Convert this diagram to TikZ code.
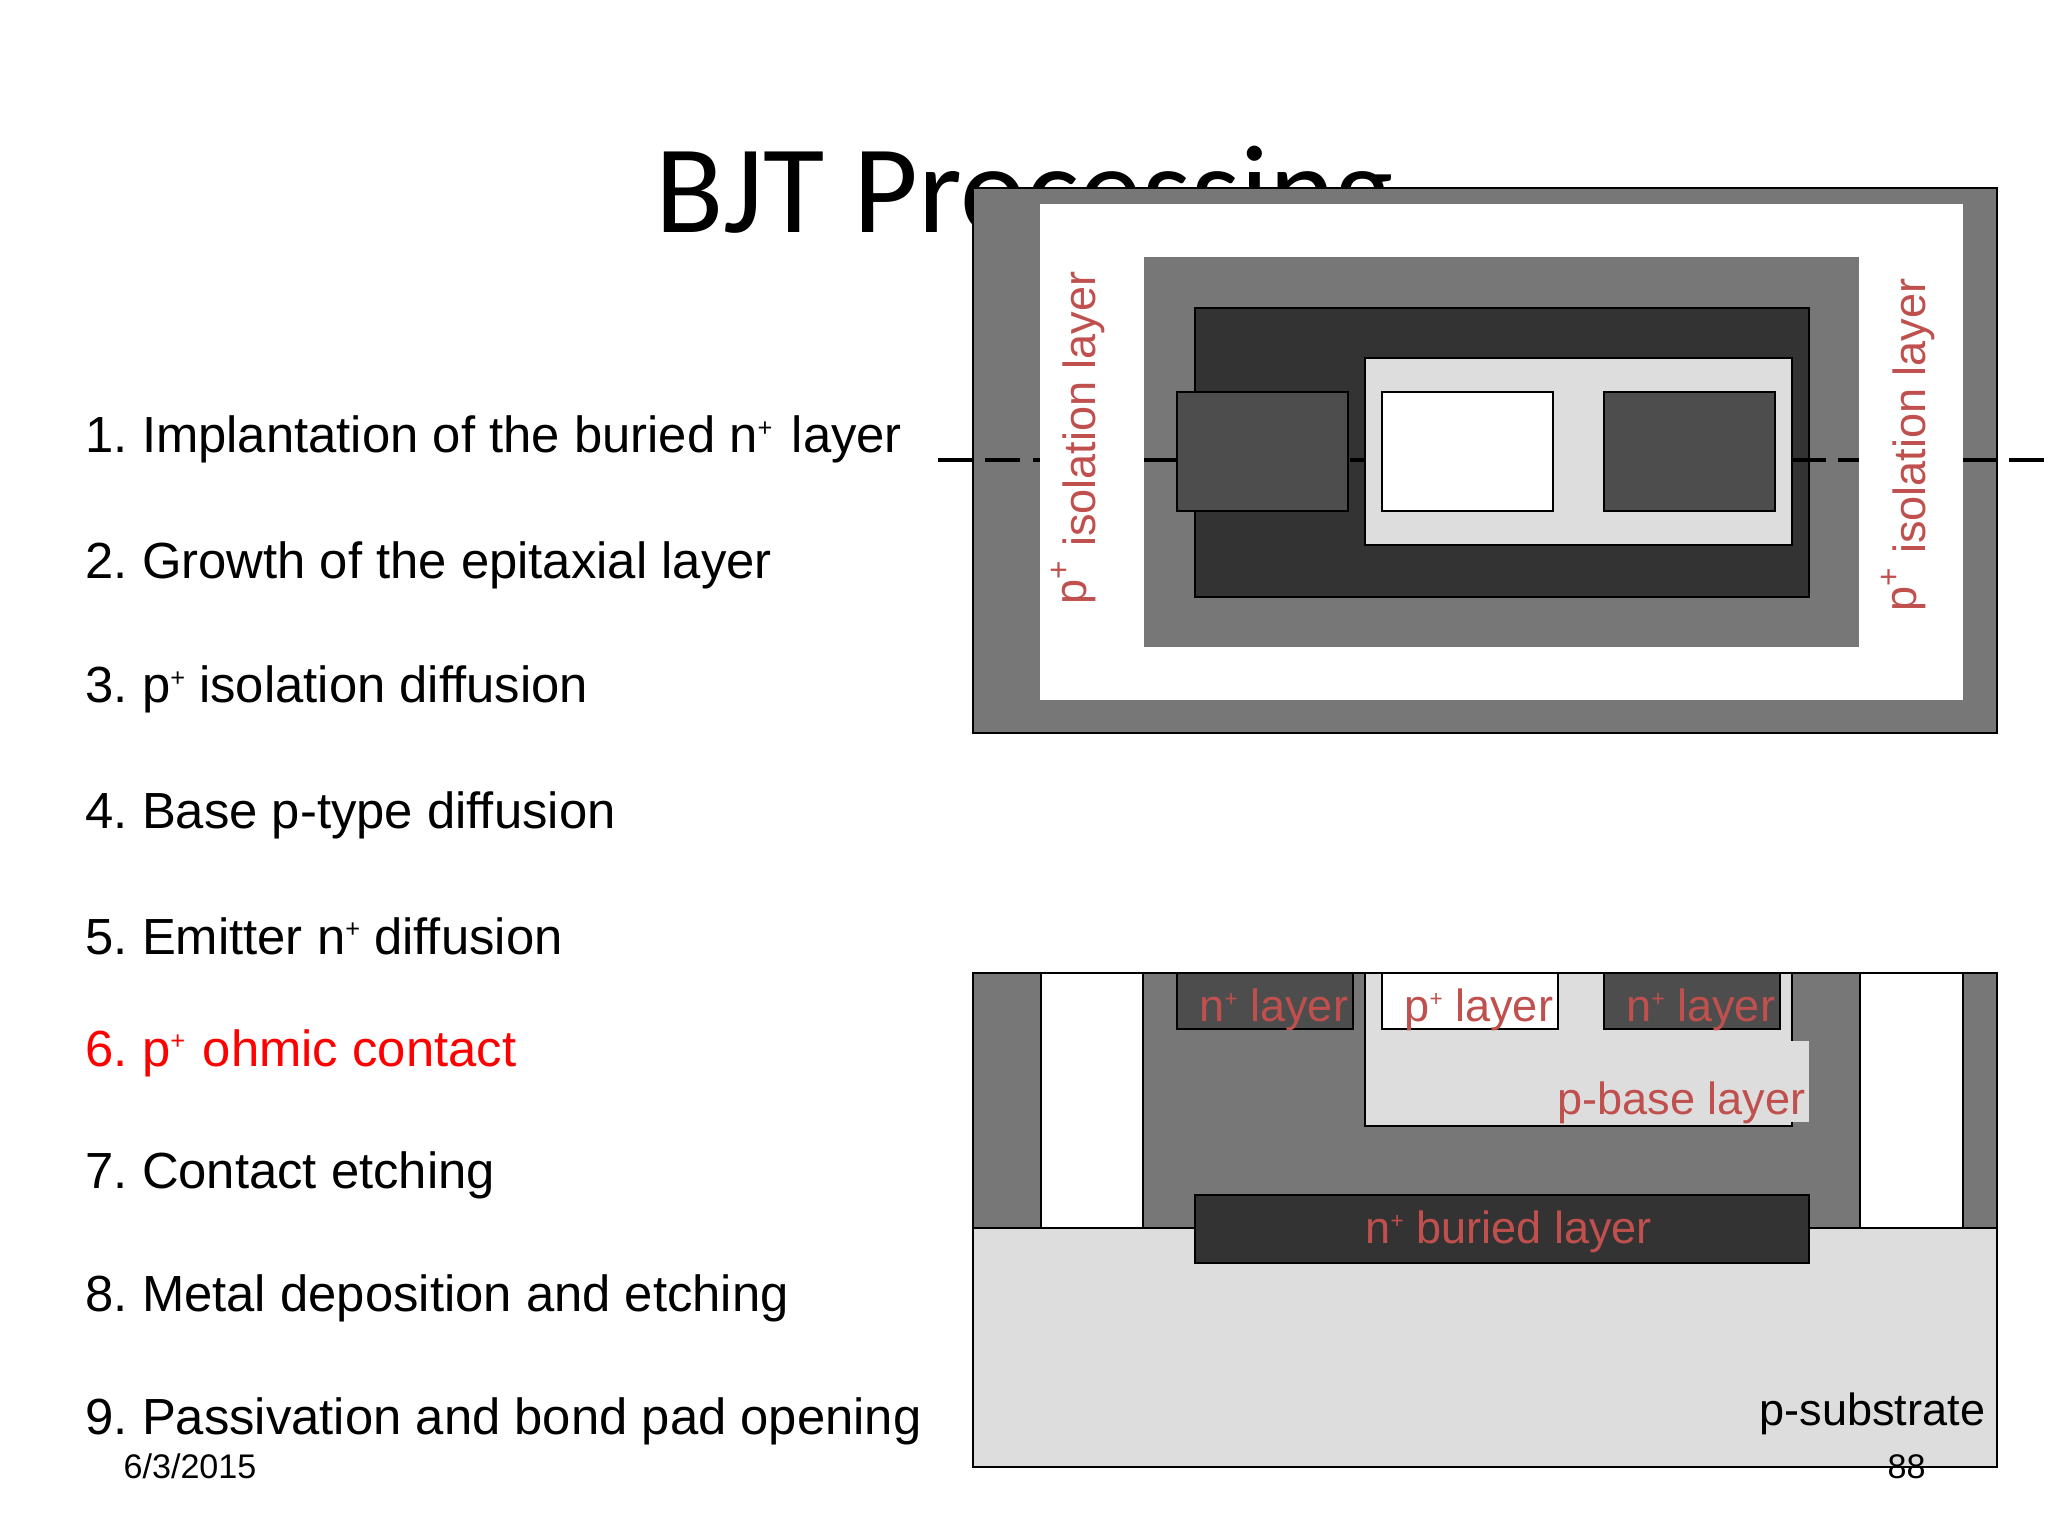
\documentclass[tikz,border=0pt]{standalone}
\usepackage{graphicx}
\usepackage{fontspec}
\setmainfont{Liberation Sans}
\newfontfamily\titlefont{Carlito}
\frenchspacing
\definecolor{wellgray}{HTML}{777777}
\definecolor{buriedgray}{HTML}{333333}
\definecolor{emittergray}{HTML}{4D4D4D}
\definecolor{basegray}{HTML}{DDDDDD}
\definecolor{labelred}{HTML}{C0504D}
\newcommand{\plusup}{\raisebox{.33em}{\scalebox{.5}{+}}}
\tikzset{
  box/.style={draw=black,line width=0.7pt},
  listtext/.style={anchor=base west,inner sep=0,font=\fontsize{17.86}{20}\selectfont},
  layertext/.style={anchor=base west,inner sep=0,text=labelred,font=\fontsize{15.85}{18}\selectfont},
  foottext/.style={anchor=base west,inner sep=0,font=\fontsize{12}{14}\selectfont},
}
\begin{document}
\begin{tikzpicture}[x=0.35156pt,y=-0.35156pt]
    \useasboundingbox (0,0) rectangle (2048,1536);
    \fill [white] (0,0) rectangle (2048,1536);
    \node [anchor=base west,inner sep=0,font=\titlefont\fontsize{44.15}{48}\selectfont] (title) at (655,233) {BJT Processing};
    % list of steps
    \foreach \ypos/\nr/\txt in {453/1/1. Implantation of the buried n\plusup\kern.1em{} layer,
        578/2/2. Growth of the epitaxial layer,
        703/3/3. p\plusup{} isolation diffusion,
        828/4/4. Base p-type diffusion,
        954/5/5. Emitter n\plusup{} diffusion,
        1188/7/7. Contact etching,
        1311/8/8. Metal deposition and etching,
        1434/9/9. Passivation and bond pad opening}
    \node [listtext] (step\nr) at (85,\ypos) {\txt};
    \node [listtext,text=red] (step6) at (85,1066) {6. p\plusup\kern.07em{} ohmic contact};
    % top view
    \draw [box,fill=wellgray] (973,188) rectangle (1997,733);
    \fill [white] (1040,204) rectangle (1963,700);
    \fill [wellgray] (1144,257) rectangle (1859,647);
    \draw [box,fill=buriedgray] (1195,308) rectangle (1809,597);
    \draw [box,fill=basegray] (1365,358) rectangle (1792,545);
    \draw [box,fill=emittergray] (1177,392) rectangle (1348,511);
    \draw [box,fill=white] (1382,392) rectangle (1553,511);
    \draw [box,fill=emittergray] (1604,392) rectangle (1775,511);
    % cut line
    \foreach \xa/\xb in {938/973,985/1020,1033/1040,1144/1177,1350/1365,1792/1826,1838/1859,1963/1997,2009/2044}
    \draw [line width=1.15pt] (\xa,460) to (\xb,460);
    \node [layertext,rotate=90] (isoleft) at (1095,605) {\raisebox{.18em}{p\textsuperscript{+}} isolation layer};
    \node [layertext,rotate=90] (isoright) at (1925,612) {\raisebox{.18em}{p\textsuperscript{+}} isolation layer};
    % cross section
    \draw [box,fill=basegray] (973,1228) rectangle (1997,1467);
    \draw [box,fill=wellgray] (973,973) rectangle (1997,1228);
    \draw [box,fill=white] (1041,973) rectangle (1143,1228);
    \draw [box,fill=white] (1860,973) rectangle (1963,1228);
    \draw [box,fill=buriedgray] (1195,1195) rectangle (1809,1263);
    \draw [box,fill=basegray] (1365,973) rectangle (1792,1126);
    \draw [box,fill=emittergray] (1177,973) rectangle (1353,1029);
    \draw [box,fill=white] (1382,973) rectangle (1558,1029);
    \draw [box,fill=emittergray] (1604,973) rectangle (1780,1029);
    \fill [basegray] (1550,1041) rectangle (1809,1122);
    \node [layertext] (nleft) at (1199,1021) {n\plusup{} layer};
    \node [layertext] (pcontact) at (1404,1021) {p\plusup{} layer};
    \node [layertext] (nright) at (1626,1021) {n\plusup{} layer};
    \node [layertext] (pbase) at (1557,1114) {p-base layer};
    \node [layertext] (nburied) at (1365,1243) {n\plusup{} buried layer};
    \node [anchor=base west,inner sep=0,font=\fontsize{15.85}{18}\selectfont] (psub) at (1759,1425) {p-substrate};
    % footer
    \node [foottext] (datefoot) at (123,1478) {6/3/2015};
    \node [foottext] (pagefoot) at (1887,1478) {88};
\end{tikzpicture}
\end{document}
